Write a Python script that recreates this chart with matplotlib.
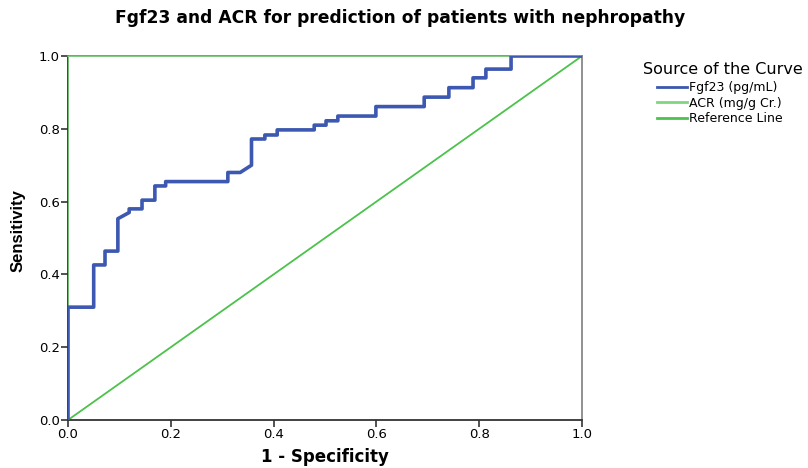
import matplotlib
matplotlib.use("Agg")
import matplotlib.pyplot as plt

plt.rcParams['font.family'] = ['DejaVu Sans']

# ROC corner points
fgf_fpr = [0.0, 0.0, 0.05, 0.05, 0.072, 0.072, 0.097, 0.097, 0.119, 0.119, 0.144, 0.144,
           0.169, 0.169, 0.19, 0.19, 0.311, 0.311, 0.335, 0.357, 0.357, 0.383, 0.383,
           0.407, 0.407, 0.479, 0.479, 0.502, 0.502, 0.525, 0.525, 0.599, 0.599, 0.693,
           0.693, 0.741, 0.741, 0.788, 0.788, 0.813, 0.813, 0.862, 0.862, 1.0]
fgf_tpr = [0.0, 0.31, 0.31, 0.426, 0.426, 0.464, 0.464, 0.553, 0.57, 0.58, 0.58, 0.604,
           0.604, 0.643, 0.643, 0.655, 0.655, 0.68, 0.68, 0.70, 0.772, 0.772, 0.783,
           0.783, 0.797, 0.797, 0.81, 0.81, 0.822, 0.822, 0.835, 0.835, 0.861, 0.861,
           0.887, 0.887, 0.913, 0.913, 0.94, 0.94, 0.964, 0.964, 1.0, 1.0]
acr_fpr = [0.0, 0.0, 1.0]
acr_tpr = [0.0, 1.0, 1.0]
ref_x = [0.0, 1.0]
ref_y = [0.0, 1.0]
ticks = [0.0, 0.2, 0.4, 0.6, 0.8, 1.0]

fig = plt.figure(figsize=(8.08, 4.68), dpi=100)
ax = fig.add_axes([68 / 808, 48 / 468, 514 / 808, 364 / 468])

ax.plot(ref_x, ref_y, color='#4cc24c', lw=1.3, label='Reference Line', zorder=2)
ax.plot(acr_fpr, acr_tpr, color='#7fd67f', lw=1.2, label='ACR (mg/g Cr.)', zorder=3)
ax.plot(fgf_fpr, fgf_tpr, color='#3c58b0', lw=2.6, label='Fgf23 (pg/mL)', zorder=4)

ax.set_xlim(0, 1)
ax.set_ylim(0, 1)
ax.set_xticks(ticks)
ax.set_yticks(ticks)
ax.set_xticklabels(['%.1f' % t for t in ticks])
ax.set_yticklabels(['%.1f' % t for t in ticks])
ax.tick_params(labelsize=9.5, length=5, width=1.2, color='#333333', pad=1)
for s in ['left', 'bottom']:
    ax.spines[s].set_color('#333333')
    ax.spines[s].set_linewidth(1.3)
for s in ['top', 'right']:
    ax.spines[s].set_color('#888888')
    ax.spines[s].set_linewidth(1.3)

ax.set_xlabel('1 - Specificity', fontsize=12, fontweight='bold', labelpad=5)
ax.set_ylabel('Sensitivity', fontsize=12, fontweight='bold', family='Liberation Sans')
ax.yaxis.set_label_coords(-0.083, 0.52)
fig.text(400 / 808, 1 - 18 / 468, 'Fgf23 and ACR for prediction of patients with nephropathy',
         ha='center', va='center', fontsize=12.3, fontweight='bold')

# legend title drawn apart so the entries can sit indented under it
fig.text(643 / 808, 1 - 69 / 468, 'Source of the Curve', ha='left', va='center', fontsize=11.5)
h, l = ax.get_legend_handles_labels()
order = [2, 1, 0]
leg = fig.legend([h[i] for i in order], [l[i] for i in order], loc='upper left',
                 bbox_to_anchor=(657 / 808, 1 - 81 / 468), frameon=False,
                 fontsize=9, handlelength=2.4, handletextpad=0.15,
                 labelspacing=0.2, borderaxespad=0, borderpad=0)
for line in leg.get_lines():
    line.set_linewidth(2.0)

fig.savefig('out.png', dpi=100)
